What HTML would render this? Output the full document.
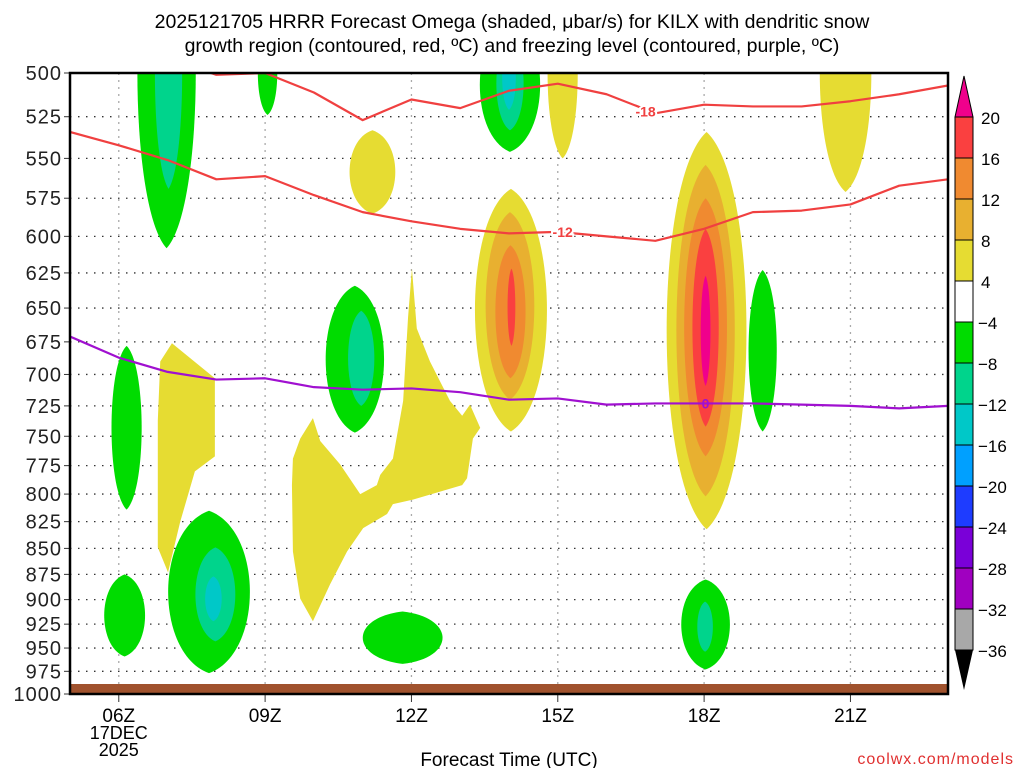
<!DOCTYPE html>
<html><head><meta charset="utf-8"><style>
html,body{margin:0;padding:0;background:#fff;}
svg{display:block;font-family:"Liberation Sans",sans-serif;}
</style></head><body>
<svg id="chart" width="1024" height="768" viewBox="0 0 1024 768" xmlns="http://www.w3.org/2000/svg">
<text x="512" y="28" text-anchor="middle" font-size="19.5">2025121705 HRRR Forecast Omega (shaded, μbar/s) for KILX with dendritic snow</text>
<text x="512" y="52" text-anchor="middle" font-size="19.5">growth region (contoured, red, ºC) and freezing level (contoured, purple, ºC)</text>
<defs><clipPath id="pc"><rect x="70" y="73" width="878" height="621"/></clipPath></defs>
<g id="grid"></g>
<g id="fills" clip-path="url(#pc)"></g>
<g id="lines" clip-path="url(#pc)"></g>
<g id="axes"></g>
<g id="cbar"></g>
<text x="509" y="766" text-anchor="middle" font-size="19">Forecast Time (UTC)</text>
<text x="1014" y="764" text-anchor="end" font-size="16" fill="#e03030" letter-spacing="1">coolwx.com/models</text>
</svg>
<script>
// ---- data ----
const pressureTicks=[500,525,550,575,600,625,650,675,700,725,750,775,800,825,850,875,900,925,950,975,1000];
const timeTickHours=[6,9,12,15,18,21];
const timeTickLabels=['06Z','09Z','12Z','15Z','18Z','21Z'];
const cbarLevels=['20','16','12','8','4','-4','-8','-12','-16','-20','-24','-28','-32','-36'];
const cbarColors=['#fa4040','#f08a30','#e8b030','#e6dc32','#ffffff','#00dc00','#00d48c','#00c8c8','#00a0ff','#1e3cff','#7a00d8','#a000c0','#a8a8a8'];
const levelColor={m:'#f0008c',R:'#fa4040',r:'#f08a30',o:'#e8b030',y:'#e6dc32',g:'#00dc00',t:'#00d48c',c:'#00c8c8'};
// omega cells (lens shapes): centre hour, top pressure, bottom pressure, half width (h), level
const blobHour=[6.98,7.02,9.05,14.02,14.02,14.0,10.84,10.97,6.16,6.12,7.85,7.98,7.94,11.82,18.03,18.02,19.2,15.1,11.2,20.9];
const blobTop=[411,440,477,470,480,485,634,652,678,875,815,849,877,912,880,902,623,455,533,438];
const blobBot=[608,569,524,546,533,521,747,725,814,959,977,943,922,967,973,954,746,550,585,571];
const blobW=[0.6,0.28,0.2,0.62,0.28,0.14,0.6,0.27,0.31,0.42,0.84,0.41,0.17,0.82,0.5,0.16,0.29,0.31,0.47,0.53];
const blobLevel=['g','t','g','g','t','c','g','t','g','g','g','t','c','g','g','t','g','y','y','y'];
// rising-motion cores drawn after polygons
const coreHour=[14.04,14.02,14.03,14.05,18.05,18.03,18.03,18.03,18.03];
const coreTop=[569,584,606,622,534,554,575,595,627];
const coreBot=[746,720,703,678,832,802,767,742,709];
const coreW=[0.74,0.5,0.31,0.08,0.82,0.6,0.44,0.27,0.1];
const coreLevel=['y','o','r','R','y','o','r','R','m'];
// irregular yellow regions
const regionOHour=[9.98,10.13,10.54,10.95,11.29,11.36,11.62,11.83,11.93,12.01,12.11,12.38,12.79,13.04,13.2,13.41,13.26,13.14,13.04,12.03,11.62,11.5,11.01,10.68,10.33,9.98,9.72,9.57,9.55,9.57,9.72];
const regionOP=[735,754,774,800,792,783,769,721,657,622,665,690,721,733,724,743,752,786,792,805,809,818,831,853,885,922,899,853,792,769,752];
const regionNHour=[6.85,7.09,7.97,7.97,7.56,7.26,7.01,6.8,6.8];
const regionNP=[690,676,703,767,780,825,873,849,737];
// contour lines
const lineHours=[5,6,7,8,9,10,11,12,13,14,15,16,17,18,19,20,21,22,23];
const tMinus18=[null,null,492,501,500,511,527,515,520,510,506,512,523,518,519,519,516,512,507];
const tMinus12=[534,542,551,563,561,573,584,590,595,598,597,600,603,595,584,583,579,567,563];
const freezing=[671,687,698,704,703,710,712,711,714,720,719,724,723,723,723,724,725,727,725];

// ---- axes ----
const X0=70,X1=948,Y0=73,Y1=694,H0=5,H1=23;
const X=h=>X0+(h-H0)/(H1-H0)*(X1-X0);
const Y=p=>Y0+Math.log(p/500)/Math.log(2)*(Y1-Y0);
const NS='http://www.w3.org/2000/svg';
function mk(tag,parent,attrs){const e=document.createElementNS(NS,tag);for(const k in attrs)e.setAttribute(k,attrs[k]);parent.appendChild(e);return e;}
const gridG=document.getElementById('grid'),fillsG=document.getElementById('fills'),linesG=document.getElementById('lines'),axesG=document.getElementById('axes'),cbarG=document.getElementById('cbar');

function lens(h,pt,pb,w,col,parent){
  const cx=X(h),t=Y(pt),b=Y(pb),rx=(X(h+w)-X(h))*1.33,H=b-t;
  const d=`M${cx},${t} C${cx+rx},${t+H*0.12} ${cx+rx},${b-H*0.12} ${cx},${b} C${cx-rx},${b-H*0.12} ${cx-rx},${t+H*0.12} ${cx},${t}Z`;
  return mk('path',parent,{d:d,fill:col});
}
blobHour.forEach((h,i)=>{
  const e=lens(h,blobTop[i],blobBot[i],blobW[i],levelColor[blobLevel[i]],fillsG);
  
  
});
function poly(hs,ps){
  return mk('polygon',fillsG,{points:hs.map((h,i)=>X(h)+','+Y(ps[i])).join(' '),fill:levelColor.y});
}
const pO=poly(regionOHour,regionOP);


const pN=poly(regionNHour,regionNP);


coreHour.forEach((h,i)=>{
  const e=lens(h,coreTop[i],coreBot[i],coreW[i],levelColor[coreLevel[i]],fillsG);
  
  
});
const groundRect=mk('rect',fillsG,{x:X0,y:Y1-10,width:X1-X0,height:10,fill:'#a0522d'});



pressureTicks.forEach(p=>{
  const l=mk('line',gridG,{x1:X0,x2:X1,y1:Y(p),y2:Y(p),stroke:'#333','stroke-width':1.3,'stroke-dasharray':'1.5 6.5'});
  
  
  const t=mk('text',axesG,{x:62,y:Y(p)+7,'text-anchor':'end','font-size':20,fill:'#222','letter-spacing':'1'});
  t.textContent=p;
  
  
  mk('line',axesG,{x1:64,x2:70,y1:Y(p),y2:Y(p),stroke:'#333','stroke-width':1});
});
timeTickHours.forEach((h,i)=>{
  const l=mk('line',gridG,{x1:X(h),x2:X(h),y1:Y0,y2:Y1,stroke:'#aaa','stroke-width':1.3,'stroke-dasharray':'2 5'});
  
  
  const t=mk('text',axesG,{x:X(h),y:722,'text-anchor':'middle','font-size':19});
  t.textContent=timeTickLabels[i];
  
  
  mk('line',axesG,{x1:X(h),x2:X(h),y1:Y1,y2:Y1+8,stroke:'#333','stroke-width':1});
});
[['17DEC',739],['2025',756]].forEach(a=>{
  const t=mk('text',axesG,{x:X(6),y:a[1],'text-anchor':'middle','font-size':18});
  t.textContent=a[0];
  
  
});
const frame=mk('rect',axesG,{x:X0,y:Y0,width:X1-X0,height:Y1-Y0,fill:'none',stroke:'#000','stroke-width':2.5});



function drawLine(vals,col,name){
  let d='';
  vals.forEach((p,i)=>{if(p==null)return;d+=(d?'L':'M')+X(lineHours[i])+','+Y(p);});
  const e=mk('path',linesG,{d:d,fill:'none',stroke:col,'stroke-width':2.2,'stroke-linejoin':'round'});
  
  
}
drawLine(tMinus18,'#f04040','isotherm-minus18');
drawLine(tMinus12,'#f04040','isotherm-minus12');
drawLine(freezing,'#a010d0','freezing-level');
function lab(txt,h,p,col){
  const t=mk('text',linesG,{x:X(h),y:Y(p)+5,'text-anchor':'middle','font-size':14,'font-weight':'bold',fill:col,stroke:'#fff','stroke-width':4,'paint-order':'stroke'});
  t.textContent=txt;
  
  
}
lab('-18',16.8,522,'#f04040');
lab('-12',15.1,597,'#f04040');
const zl=mk('text',linesG,{x:X(18.03),y:Y(723)+5,'text-anchor':'middle','font-size':14,'font-weight':'bold',fill:'#a010d0'});
zl.textContent='0';



const CX=955,CW=18,CT=117,BH=41;
const cbTop=mk('polygon',cbarG,{points:`${CX},${CT} ${CX+CW},${CT} ${CX+CW/2},76`,fill:'#f0008c',stroke:'#000','stroke-width':1});


cbarColors.forEach((c,i)=>{
  const r=mk('rect',cbarG,{x:CX,y:CT+i*BH,width:CW,height:BH,fill:c,stroke:'#000','stroke-width':1});
  
  
});
const cbBot=mk('polygon',cbarG,{points:`${CX},${CT+13*BH} ${CX+CW},${CT+13*BH} ${CX+CW/2},690`,fill:'#000'});


cbarLevels.forEach((v,i)=>{
  const t=mk('text',cbarG,{x:v[0]=='-'?978:981,y:CT+i*BH+7,'font-size':17});
  t.textContent=v.replace('-','−');
  
  
});
</script>
</body></html>
